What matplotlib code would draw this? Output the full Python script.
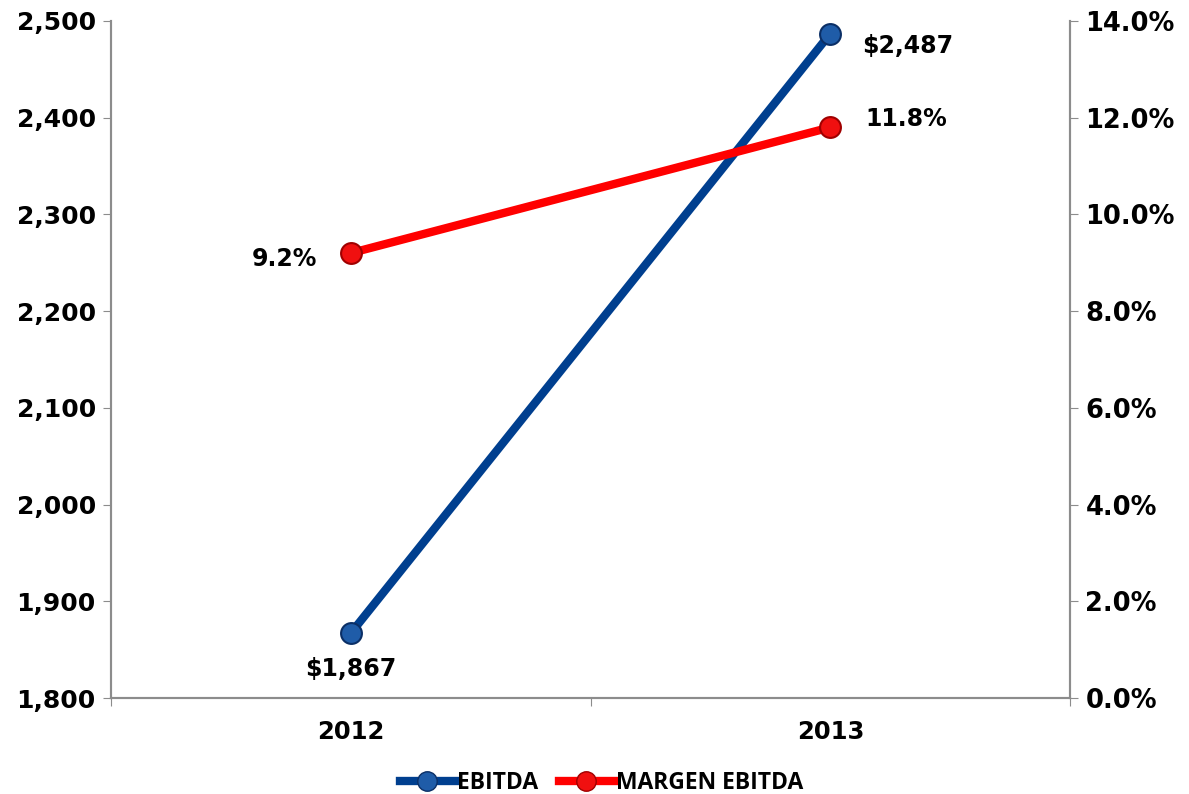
import matplotlib
matplotlib.use("Agg")
import matplotlib.pyplot as plt
from matplotlib.ticker import FuncFormatter

years = ["2012", "2013"]
ebitda = [1867, 2487]
margen = [9.2, 11.8]
ebitda_labels = ["$1,867", "$2,487"]
margen_labels = ["9.2%", "11.8%"]

BLUE = "#003F8F"
RED = "#FF0000"
GRAY = "#8C8C8C"

plt.rcParams["font.family"] = ["DejaVu Sans"]
plt.rcParams["font.weight"] = "bold"

fig = plt.figure(figsize=(11.89, 7.94), dpi=100)
ax = fig.add_axes([0.0934, 0.1209, 0.8066, 0.8527])
ax2 = ax.twinx()

x = [0.5, 1.5]
ax.plot(x, ebitda, color=BLUE, lw=6, marker="o", ms=15,
        mfc="#1F5CA8", mec="#0B2F66", mew=1.5, solid_capstyle="round", zorder=3)
ax2.plot(x, margen, color=RED, lw=6, marker="o", ms=15,
         mfc="#F01010", mec="#A00000", mew=1.5, solid_capstyle="round", zorder=3)

ax.set_xlim(0, 2)
ax.set_ylim(1800, 2500)
ax.set_yticks(range(1800, 2501, 100))
ax.yaxis.set_major_formatter(FuncFormatter(lambda v, p: f"{v:,.0f}"))
ax2.set_ylim(0, 14)
ax2.set_yticks(range(0, 15, 2))
ax2.yaxis.set_major_formatter(FuncFormatter(lambda v, p: f"{v:.1f}%"))

ax.set_xticks([0, 1, 2])
ax.set_xticklabels([])
ax.set_xticks(x, minor=True)
ax.set_xticklabels(years, minor=True)
ax.tick_params(axis="x", which="minor", length=0, pad=16, labelsize=17.5)
ax.tick_params(axis="x", which="major", length=6, color=GRAY, direction="out")
ax.tick_params(axis="y", length=6, color=GRAY, labelsize=18, pad=5)
ax2.tick_params(axis="y", length=6, color=GRAY, labelsize=18.5, pad=5)

for a in (ax, ax2):
    a.spines["top"].set_visible(False)
    for s in ("left", "right", "bottom"):
        a.spines[s].set_color(GRAY)
        a.spines[s].set_linewidth(1.5)

kw = dict(fontsize=17, fontweight="bold", va="center")
ax.annotate(ebitda_labels[0], (x[0], ebitda[0]), xytext=(0, -26),
            textcoords="offset points", ha="center", **kw)
ax.annotate(ebitda_labels[1], (x[1], ebitda[1]), xytext=(23, -9),
            textcoords="offset points", ha="left", **kw)
ax2.annotate(margen_labels[0], (x[0], margen[0]), xytext=(-24, -4),
             textcoords="offset points", ha="right", **kw)
ax2.annotate(margen_labels[1], (x[1], margen[1]), xytext=(25, 6),
             textcoords="offset points", ha="left", **kw)

h1, = ax.plot([], [], color=BLUE, lw=6, marker="o", ms=14, mfc="#1F5CA8", mec="#0B2F66")
h2, = ax.plot([], [], color=RED, lw=6, marker="o", ms=14, mfc="#F01010", mec="#A00000")
fig.legend([h1, h2], ["EBITDA", "MARGEN EBITDA"], loc="lower center",
           bbox_to_anchor=(0.506, -0.022), ncol=2, frameon=False,
           prop={"family": "Open Sans", "weight": "bold", "size": 16.5},
           handlelength=2.4, handletextpad=0.1, columnspacing=0.9,
           borderaxespad=0.3)

fig.savefig("out.png", dpi=100)
